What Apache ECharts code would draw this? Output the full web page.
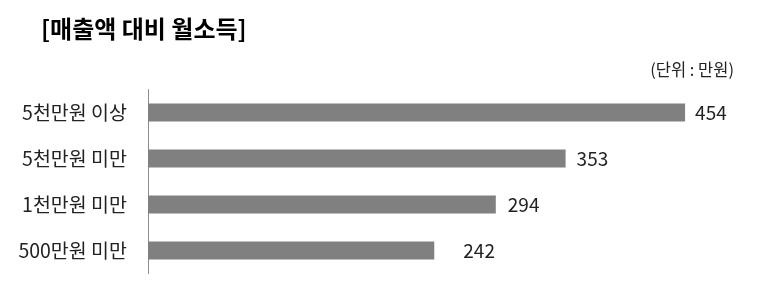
<!DOCTYPE html>
<html><head><meta charset="utf-8">
<script src="https://cdn.jsdelivr.net/npm/echarts@6/dist/echarts.min.js"></script>
<style>html,body{margin:0;padding:0;background:#fff}#c{width:766px;height:281px}</style>
</head><body><div id="c"></div>
<script>
const categories = ['5천만원 이상', '5천만원 미만', '1천만원 미만', '500만원 미만'];
const values = [454, 353, 294, 242];
const titleText = '[매출액 대비 월소득]';
const unitText = '(단위 : 만원)';

const labelGaps = [10, 11, 12, 29];
const font = '"Noto Sans CJK KR", "Noto Sans", sans-serif';
const chart = echarts.init(document.getElementById('c'), null, {renderer: 'canvas'});
chart.setOption({
  animation: false,
  backgroundColor: '#fff',
  title: [
    {text: titleText, left: 36, top: 12, textStyle: {fontFamily: font, fontSize: 24, fontWeight: 'bold', color: '#000'}},
    {text: unitText, right: 27, top: 56, textStyle: {fontFamily: font, fontSize: 16.5, fontWeight: 'normal', color: '#222'}}
  ],
  grid: {left: 148, top: 89.5, width: 591.5, height: 184, containLabel: false},
  xAxis: {type: 'value', min: 0, max: 500, show: false},
  yAxis: {
    type: 'category', data: categories, inverse: true,
    axisLine: {show: true, lineStyle: {color: '#8c8c8c', width: 1}},
    axisTick: {show: false},
    axisLabel: {margin: 21, fontFamily: font, fontSize: 19.5, color: '#222'}
  },
  series: [{
    type: 'bar', barWidth: 18,
    data: values.map((v, i) => ({value: v, label: {distance: labelGaps[i]}})),
    itemStyle: {color: '#808080'},
    label: {show: true, position: 'right', fontFamily: font, fontSize: 19, color: '#222'}
  }]
});
</script></body></html>
